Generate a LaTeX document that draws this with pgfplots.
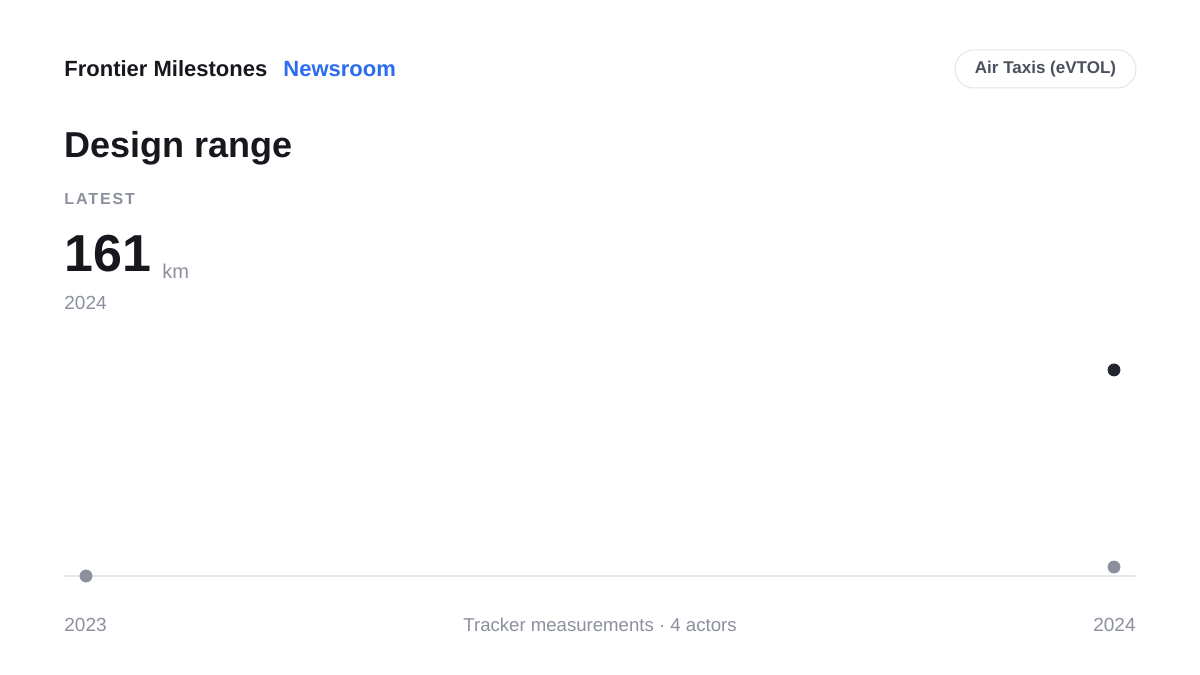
\documentclass[border=0pt]{standalone}
\usepackage{fontspec}
\setmainfont{Liberation Sans}
\usepackage{pgfplots}
\pgfplotsset{compat=1.18}

\definecolor{ink}{HTML}{16181D}
\definecolor{newsblue}{HTML}{2B6CF0}
\definecolor{muted}{HTML}{8B909C}
\definecolor{pillborder}{HTML}{E3E5E8}
\definecolor{pilltext}{HTML}{4B5060}
\definecolor{baseline}{HTML}{E5E7EB}
\definecolor{dotdark}{HTML}{22262F}

\begin{document}
\begin{tikzpicture}[x=0.5pt,y=0.5pt]
  % canvas, 1 unit = 1 px of the 1200x675 reference
  \fill[white] (0,0) rectangle (1200,675);

  % header
  \node[anchor=base west,inner sep=0pt,text=ink,font=\fontsize{11}{13}\selectfont\bfseries] at (64,598) {Frontier Milestones};
  \node[anchor=base west,inner sep=0pt,text=newsblue,font=\fontsize{11}{13}\selectfont\bfseries] at (283,598) {Newsroom};
  \node[draw=pillborder,line width=0.5pt,rounded corners=9.5pt,minimum width=90.5pt,minimum height=19pt,inner sep=0pt,
        text=pilltext,font=\fontsize{8.5}{10}\selectfont\bfseries] at (1045.5,606) {Air Taxis (eVTOL)};

  \node[anchor=base west,inner sep=0pt,text=ink,font=\fontsize{18}{21}\selectfont\bfseries] at (64,517) {Design range};
  \node[anchor=base west,inner sep=0pt,text=muted,font=\fontsize{8}{10}\selectfont\bfseries\addfontfeature{LetterSpace=12}] at (64,470) {LATEST};
  \node[anchor=base west,inner sep=0pt,text=ink,font=\fontsize{26}{30}\selectfont\bfseries] at (64,403) {161};
  \node[anchor=base west,inner sep=0pt,text=muted,font=\fontsize{10}{12}\selectfont] at (162,396) {km};
  \node[anchor=base west,inner sep=0pt,text=muted,font=\fontsize{9.5}{11}\selectfont] at (64,365) {2024};

  % plot: x = 0 is 2023, x = 1 is 2024
  \begin{axis}[
      at={(32pt,49.5pt)}, anchor=south west,
      width=536pt, height=118pt, scale only axis,
      xmin=-0.0214, xmax=1.0214,
      ymin=0, ymax=184.4,
      axis lines=none, clip=false,
    ]
    \addplot[draw=baseline, line width=1pt] coordinates {(-0.0214,0) (1.0214,0)};
    \addplot[only marks, mark=*, mark size=3pt, color=muted] coordinates {
      (0, 0)
      (1, 7)
    };
    \addplot[only marks, mark=*, mark size=3pt, color=dotdark] coordinates {
      (1, 161)
    };
  \end{axis}

  % footer
  \node[anchor=base west,inner sep=0pt,text=muted,font=\fontsize{9.5}{11}\selectfont] at (64,43) {2023};
  \node[anchor=base,inner sep=0pt,text=muted,font=\fontsize{9.3}{11}\selectfont] at (600,43) {Tracker measurements · 4 actors};
  \node[anchor=base east,inner sep=0pt,text=muted,font=\fontsize{9.5}{11}\selectfont] at (1136,43) {2024};
\end{tikzpicture}
\end{document}
